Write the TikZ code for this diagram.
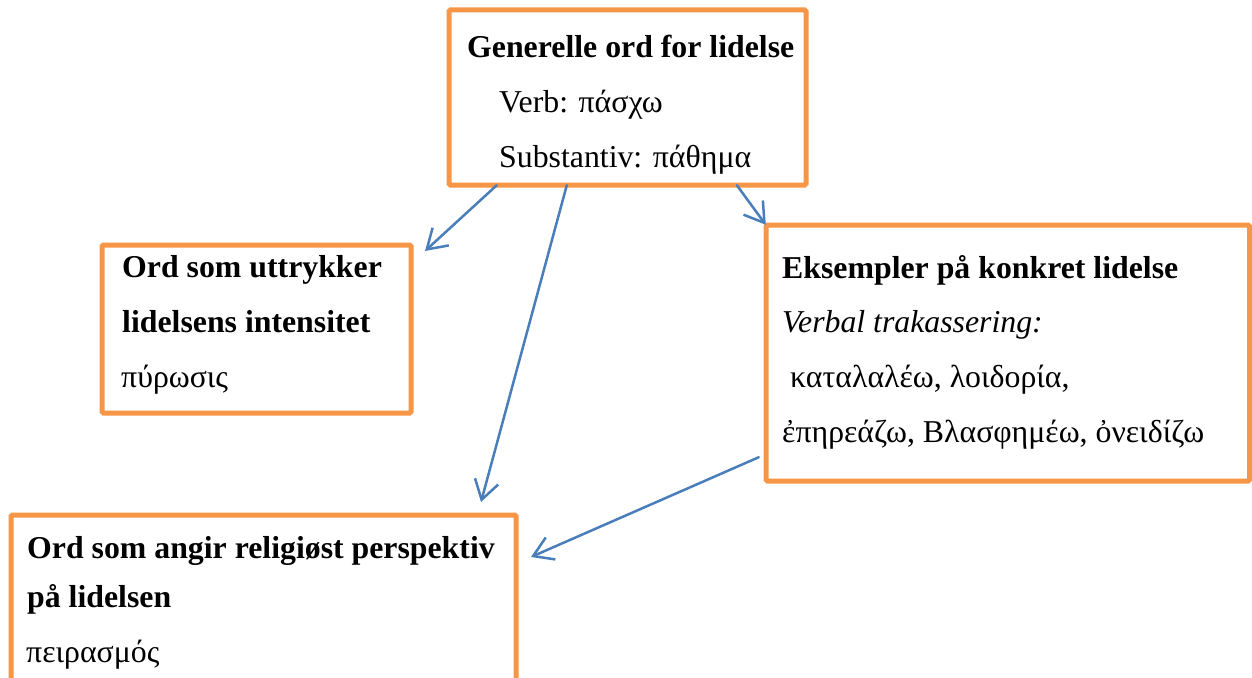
\documentclass[tikz,border=0pt]{standalone}
\usepackage{fontspec}
\setmainfont{Liberation Serif}
\usetikzlibrary{arrows.meta}
\definecolor{boxorange}{HTML}{F79646}
\definecolor{arrowblue}{HTML}{4A7EBB}
\tikzset{
  box/.style={draw=boxorange, line width=5pt, rounded corners=1.5pt, inner sep=0pt, fill=white},
  txt/.style={anchor=base west, inner sep=0pt, font=\fontsize{31.8}{38}\selectfont},
  btxt/.style={txt, font=\fontsize{31.8}{38}\selectfont\bfseries},
  itxt/.style={txt, font=\fontsize{31.8}{38}\selectfont\itshape},
  arr/.style={draw=arrowblue, line width=2.5pt, line cap=round, -{Straight Barb[length=19pt,width=24pt,line width=2.5pt]}}
}
\begin{document}
\begin{tikzpicture}[x=1pt,y=-1pt]
\useasboundingbox[fill=white] (0,0) rectangle (1252,677);
% boxes
\draw[box] (449,10) rectangle (806,185);
\node[inner sep=0pt, minimum width=357pt, minimum height=175pt] (b1) at (627.5,97.5) {};
\draw[box] (102,245) rectangle (411,413);
\node[inner sep=0pt, minimum width=309pt, minimum height=168pt] (b2) at (256.5,329) {};
\draw[box] (766,225) rectangle (1249.5,481);
\node[inner sep=0pt, minimum width=483.5pt, minimum height=256pt] (b3) at (1007.75,353) {};
\draw[box] (11,515) rectangle (516,700);
\node[inner sep=0pt, minimum width=505pt, minimum height=185pt] (b4) at (263.5,607.5) {};
% texts
\node[btxt] (t11) at (467,57) {Generelle ord for lidelse};
\node[txt] (t12) at (499,112) {Verb: πάσχω};
\node[txt] (t13) at (499,167) {Substantiv: πάθημα};
\node[btxt] (t21) at (122,277) {Ord som uttrykker};
\node[btxt] (t22) at (122,332) {lidelsens intensitet};
\node[txt] (t23) at (121,387) {πύρωσις};
\node[btxt] (t31) at (782,278) {Eksempler på konkret lidelse};
\node[itxt] (t32) at (782,332) {Verbal trakassering:};
\node[txt] (t33) at (790,387) {καταλαλέω, λοιδορία,};
\node[txt] (t34) at (782,442) {ἐπηρεάζω, Βλασφημέω, ὀνειδίζω};
\node[btxt] (t41) at (27,558) {Ord som angir religiøst perspektiv};
\node[btxt] (t42) at (27,607) {på lidelsen};
\node[txt] (t43) at (26,662) {πειρασμός};
% arrow end points
\coordinate (e1) at (425,251);
\coordinate (e2) at (481,502);
\coordinate (e4) at (531,557);
\draw[arr] ([xshift=48pt]b1.south west) -- (e1);
\draw[arr] ([xshift=118pt]b1.south west) -- (e2);
\draw[arr] ([xshift=288pt]b1.south west) -- (b3.north west);
\draw[arr] ([xshift=-7pt,yshift=24pt]b3.south west) -- (e4);
\end{tikzpicture}
\end{document}
